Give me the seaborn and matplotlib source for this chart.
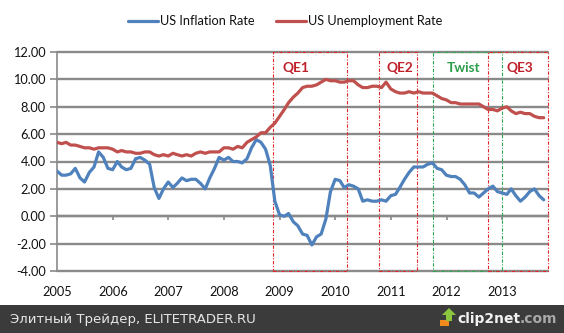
import matplotlib
matplotlib.use("Agg")
import matplotlib.pyplot as plt
import matplotlib.dates as mdates
from matplotlib.patches import Rectangle, Polygon
from matplotlib.lines import Line2D
import seaborn as sns
import pandas as pd

# ---------------- data ----------------
start_month = "2004-12-31"   # first observation (monthly, month-end)
inflation = [
    3.3,
    3.0, 3.0, 3.1, 3.5, 2.8, 2.5, 3.2, 3.6, 4.7, 4.3, 3.5, 3.4,
    4.0, 3.6, 3.4, 3.5, 4.2, 4.3, 4.1, 3.8, 2.1, 1.3, 2.0, 2.5,
    2.1, 2.4, 2.8, 2.6, 2.7, 2.7, 2.4, 2.0, 2.8, 3.5, 4.3, 4.1,
    4.3, 4.0, 4.0, 3.9, 4.2, 5.0, 5.6, 5.4, 4.9, 3.7, 1.1, 0.1,
    0.0, 0.2, -0.4, -0.7, -1.3, -1.4, -2.1, -1.5, -1.3, -0.2, 1.8, 2.7,
    2.6, 2.1, 2.3, 2.2, 2.0, 1.1, 1.2, 1.1, 1.1, 1.2, 1.1, 1.5,
    1.6, 2.1, 2.7, 3.2, 3.6, 3.6, 3.6, 3.8, 3.9, 3.5, 3.4, 3.0,
    2.9, 2.9, 2.7, 2.3, 1.7, 1.7, 1.4, 1.7, 2.0, 2.2, 1.8, 1.7,
    1.6, 2.0, 1.5, 1.1, 1.4, 1.8, 2.0, 1.5, 1.2,
]
unemployment = [
    5.4,
    5.3, 5.4, 5.2, 5.2, 5.1, 5.0, 5.0, 4.9, 5.0, 5.0, 5.0, 4.9,
    4.7, 4.8, 4.7, 4.7, 4.6, 4.6, 4.7, 4.7, 4.5, 4.4, 4.5, 4.4,
    4.6, 4.5, 4.4, 4.5, 4.4, 4.6, 4.7, 4.6, 4.7, 4.7, 4.7, 5.0,
    5.0, 4.9, 5.1, 5.0, 5.4, 5.6, 5.8, 6.1, 6.1, 6.5, 6.8, 7.3,
    7.8, 8.3, 8.7, 9.0, 9.4, 9.5, 9.5, 9.6, 9.8, 10.0, 9.9, 9.9,
    9.8, 9.8, 9.9, 9.9, 9.6, 9.4, 9.4, 9.5, 9.5, 9.4, 9.8, 9.3,
    9.1, 9.0, 9.0, 9.1, 9.0, 9.1, 9.0, 9.0, 9.0, 8.8, 8.6, 8.5,
    8.3, 8.3, 8.2, 8.2, 8.2, 8.2, 8.2, 8.0, 7.8, 7.8, 7.7, 7.9,
    8.0, 7.7, 7.5, 7.6, 7.5, 7.5, 7.3, 7.2, 7.2,
]
series_names = ["US Inflation Rate", "US Unemployment Rate"]
series_colors = ["#4F81BD", "#C0504D"]

programs = ["QE1", "QE2", "Twist", "QE3"]
program_start = ["2008-11-18", "2010-10-17", "2011-10-07", "2012-09-28"]
program_end = ["2010-03-19", "2011-06-24", "2012-12-29", "2013-10-28"]
program_label_at = ["2009-04-18", "2011-03-02", "2012-04-23", "2013-04-29"]
program_edge_colors = ["#E0262B", "#E0262B", "#2BA84A", "#E0262B"]
program_text_colors = ["#C0202A", "#C0202A", "#2E9E4A", "#C0202A"]

year_ticks = list(range(2005, 2014))
y_ticks = [-4, -2, 0, 2, 4, 6, 8, 10, 12]
x_start, x_end = "2004-12-31", "2013-10-28"

# ---------------- frame ----------------
dates = pd.date_range(start_month, periods=len(inflation), freq="ME")
df = pd.DataFrame({
    "date": list(dates) * 2,
    "value": inflation + unemployment,
    "series": [series_names[0]] * len(inflation) + [series_names[1]] * len(unemployment),
})

sns.set_theme(style="white")
plt.rcParams["font.family"] = ["Lato", "DejaVu Sans"]
plt.rcParams["axes.unicode_minus"] = False

fig = plt.figure(figsize=(5.64, 3.33), dpi=100)
ax = fig.add_axes([57 / 564, 1 - 271 / 333, (548 - 57) / 564, (271 - 52) / 333])

sns.lineplot(data=df, x="date", y="value", hue="series", palette=series_colors,
             hue_order=series_names, linewidth=2.3, legend=False, ax=ax, zorder=4)

grid_c = "#8A8A8A"
ax.set_ylim(-4, 12)
ax.set_xlim(pd.Timestamp(x_start), pd.Timestamp(x_end))
ax.set_yticks(y_ticks)
ax.set_yticklabels([f"{v:.2f}" for v in y_ticks])
ax.yaxis.grid(True, color=grid_c, linewidth=1.7)
ax.xaxis.grid(False)
ax.set_axisbelow(True)
for g in ax.get_ygridlines():
    g.set_clip_on(False)

ax.set_xticks([pd.Timestamp(f"{y}-01-01") for y in year_ticks])
ax.set_xticklabels([str(y) for y in year_ticks])
ax.set_xlabel("")
ax.set_ylabel("")

for s in ["top", "right"]:
    ax.spines[s].set_visible(False)
ax.spines["left"].set_color(grid_c)
ax.spines["left"].set_linewidth(1.2)
ax.spines["bottom"].set_position(("data", 0))
ax.spines["bottom"].set_color(grid_c)
ax.spines["bottom"].set_linewidth(1.7)

ax.tick_params(axis="y", which="major", direction="out", length=5, width=1.2,
               color=grid_c, labelsize=9.2, labelcolor="#111111", pad=3, left=True)
ax.tick_params(axis="x", which="major", direction="out", length=3, width=1.2,
               color=grid_c, labelsize=9.2, labelcolor="#111111", pad=47, bottom=True)

# program rectangles
for name, s, e, lx, ec, tc in zip(programs, program_start, program_end,
                                   program_label_at, program_edge_colors, program_text_colors):
    x0 = mdates.date2num(pd.Timestamp(s))
    x1 = mdates.date2num(pd.Timestamp(e))
    ax.add_patch(Rectangle((x0, -4), x1 - x0, 16, fill=False, edgecolor=ec,
                           linewidth=0.8, linestyle=(0, (3, 1.5, 1, 1.5)),
                           zorder=3, clip_on=False))
    ax.text(pd.Timestamp(lx), 10.8, name, color=tc, fontsize=9.8, fontweight="bold",
            ha="center", va="center", zorder=5)

# legend
handles = [Line2D([0], [0], color=c, linewidth=2.3) for c in series_colors]
fig.legend(handles, series_names, loc="center", bbox_to_anchor=(285 / 564, 1 - 21 / 333),
           ncol=2, frameon=False, fontsize=9.2, handlelength=2.35, handletextpad=0.15,
           columnspacing=1.7, labelcolor="#111111")

# bottom band
fig.patches.append(Rectangle((0, 0), 1, 28 / 333, transform=fig.transFigure,
                             facecolor="#3B3B3B", edgecolor="none", zorder=0))
fig.text(10 / 564, 1 - 319 / 333, "Элитный Трейдер, ELITETRADER.RU", color="#E6E6E6",
         fontsize=9.5, family=["DejaVu Sans"], va="center", ha="left")
# small logo
fig.patches.append(Rectangle((440 / 564, 1 - 326 / 333), 9 / 564, 6 / 333,
                             transform=fig.transFigure, facecolor="#F08A1C",
                             edgecolor="none", zorder=1))
fig.patches.append(Polygon([(446 / 564, 1 - 321 / 333), (446 / 564, 1 - 315 / 333),
                            (442 / 564, 1 - 315 / 333), (449 / 564, 1 - 308 / 333),
                            (456 / 564, 1 - 315 / 333), (452 / 564, 1 - 315 / 333),
                            (452 / 564, 1 - 321 / 333)],
                           closed=True, transform=fig.transFigure, facecolor="#8CC63E",
                           edgecolor="none", zorder=1))
fig.text(520 / 564, 1 - 319 / 333, "clip2net", color="#F2F2F2", fontsize=10,
         fontweight="bold", family=["DejaVu Sans"], va="center", ha="right")
fig.text(520 / 564, 1 - 319 / 333, ".com", color="#A8A8A8", fontsize=10,
         fontweight="bold", family=["DejaVu Sans"], va="center", ha="left")

fig.savefig("out.png", dpi=100, facecolor="white")
